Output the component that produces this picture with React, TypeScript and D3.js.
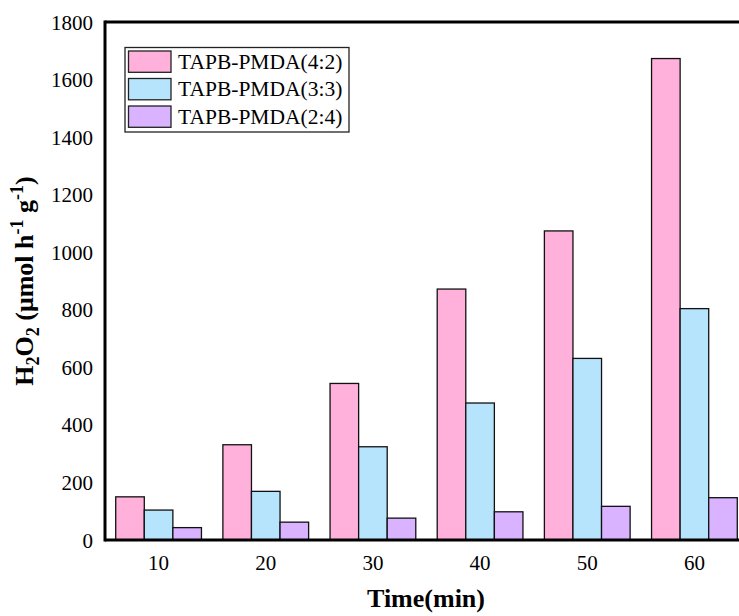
import React from 'react';
import * as d3 from 'd3';

// data
const times = ['10', '20', '30', '40', '50', '60'];
const seriesNames = ['TAPB-PMDA(4:2)', 'TAPB-PMDA(3:3)', 'TAPB-PMDA(2:4)'];
const s42 = [150, 331, 544, 872, 1074, 1673];
const s33 = [104, 169, 324, 476, 631, 804];
const s24 = [43, 62, 76, 98, 117, 147];
const yTicks = [0, 200, 400, 600, 800, 1000, 1200, 1400, 1600, 1800];

const colors = ['#FFB1DB', '#B7E4FD', '#D9B3FF'];
const serif = '"Liberation Serif", "Times New Roman", serif';

export default function App() {
  const W = 739, H = 616;
  const left = 105, right = 748, top = 22, bottom = 540;
  const series = [s42, s33, s24];

  const x = d3.scaleBand().domain(times).range([left, right]).paddingInner(0.2).paddingOuter(0.1);
  const xs = d3.scaleBand().domain(seriesNames).range([0, x.bandwidth()]);
  const y = d3.scaleLinear().domain([0, 1800]).range([bottom, top]);

  return (
    <svg width={W} height={H} style={{ position: 'absolute', left: 0, top: 0 }}
      fontFamily={serif}>
      <rect width={W} height={H} fill="#fff" />

      {/* bars */}
      {times.map((t, i) => (
        <g key={t}>
          {series.map((s, j) => (
            <rect key={j}
              x={x(t)! + xs(seriesNames[j])!}
              y={y(s[i])}
              width={xs.bandwidth()}
              height={y(0) - y(s[i])}
              fill={colors[j]} stroke="#111" strokeWidth={1.3} />
          ))}
        </g>
      ))}

      {/* frame */}
      <line x1={left} x2={W} y1={top} y2={top} stroke="#000" strokeWidth={3} />
      <line x1={left} x2={W} y1={bottom} y2={bottom} stroke="#000" strokeWidth={3} />
      <line x1={left} x2={left} y1={top - 1.5} y2={bottom + 1.5} stroke="#000" strokeWidth={3} />

      {/* y tick labels */}
      {yTicks.map(v => (
        <text key={v} x={93} y={y(v) + 7.5} textAnchor="end" fontSize={21}>{v}</text>
      ))}

      {/* x tick labels */}
      {times.map(t => (
        <text key={t} x={x(t)! + x.bandwidth() / 2} y={569.5} textAnchor="middle" fontSize={21}>{t}</text>
      ))}

      {/* axis titles */}
      <text x={(left + W) / 2 + 4} y={607} textAnchor="middle" fontSize={26} fontWeight="bold">Time(min)</text>
      <text transform={`translate(33, ${(top + bottom) / 2}) rotate(-90)`} textAnchor="middle"
        fontSize={26} fontWeight="bold">
        H<tspan fontSize={18} dy={6}>2</tspan>
        <tspan dy={-6}>O</tspan>
        <tspan fontSize={18} dy={6}>2</tspan>
        <tspan dy={-6}> (μmol h</tspan>
        <tspan fontSize={18} dy={-10}>-1</tspan>
        <tspan dy={10}> g</tspan>
        <tspan fontSize={18} dy={-10}>-1</tspan>
        <tspan dy={10}>)</tspan>
      </text>

      {/* legend */}
      <g>
        <rect x={125} y={47.5} width={224} height={84.5} fill="#fff" stroke="#222" strokeWidth={1.3} />
        {seriesNames.map((n, j) => (
          <g key={n}>
            <rect x={128.5} y={51 + j * 27.5} width={42.5} height={21.3} fill={colors[j]} stroke="#222" strokeWidth={1.3} />
            <text x={178} y={68.5 + j * 27.5} fontSize={21.5}>{n}</text>
          </g>
        ))}
      </g>
    </svg>
  );
}
